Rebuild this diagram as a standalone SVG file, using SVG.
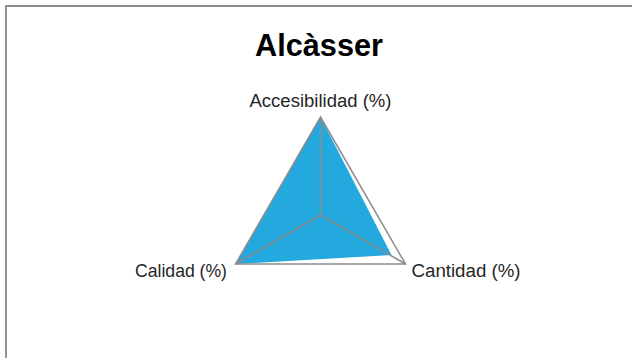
<svg xmlns="http://www.w3.org/2000/svg" width="632" height="358" viewBox="0 0 632 358">
  <style>
    .grid { fill: none; stroke: #8c8c8c; stroke-width: 1.5; stroke-linejoin: miter; }
    .lbl { font-family: "Liberation Sans", Arial, sans-serif; font-size: 18px; fill: #262626; }
    .title { font-family: "Liberation Sans", Arial, sans-serif; font-size: 32px; font-weight: bold; fill: #000000; }
  </style>
  <rect x="0" y="0" width="632" height="358" fill="#ffffff"/>
  <g id="frame">
    <path d="M6,358 L6,6 L632,6" fill="none" stroke="#8a8a8a" stroke-width="1.8"/>
  </g>
  <g id="title">
    <text class="title" x="319" y="56" text-anchor="middle" textLength="128" lengthAdjust="spacingAndGlyphs">Alcàsser</text>
  </g>
  <g id="series">
    <polygon points="320.5,117 391.5,255 235.5,264" fill="#23a9de"/>
  </g>
  <g id="connectors">
    <polygon class="grid" points="320.5,117 405.5,264 235.5,264"/>
    <line class="grid" x1="320.5" y1="215" x2="320.5" y2="117"/>
    <line class="grid" x1="320.5" y1="215" x2="405.5" y2="264"/>
    <line class="grid" x1="320.5" y1="215" x2="235.5" y2="264"/>
  </g>
  <g id="axis-accesibilidad">
    <text class="lbl" x="249.5" y="107" textLength="142" lengthAdjust="spacingAndGlyphs">Accesibilidad (%)</text>
  </g>
  <g id="axis-calidad">
    <text class="lbl" x="135" y="277" textLength="92" lengthAdjust="spacingAndGlyphs">Calidad (%)</text>
  </g>
  <g id="axis-cantidad">
    <text class="lbl" x="411.5" y="277" textLength="109" lengthAdjust="spacingAndGlyphs">Cantidad (%)</text>
  </g>
</svg>
